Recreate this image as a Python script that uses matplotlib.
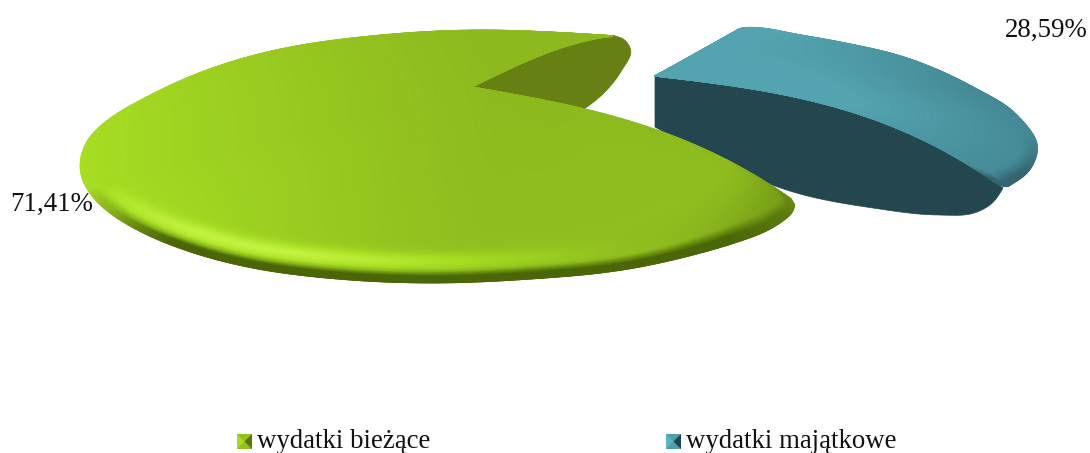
import numpy as np
import matplotlib
matplotlib.use("Agg")
import matplotlib.pyplot as plt
from matplotlib.collections import LineCollection
from matplotlib.colors import LinearSegmentedColormap

plt.rcParams['font.family'] = ['Liberation Serif', 'DejaVu Serif']

categories = ['wydatki bieżące', 'wydatki majątkowe']
shares = [71.41, 28.59]
share_labels = ['71,41%', '28,59%']

# angles come from the shares, blue slice sits on the right
top_angle = 50.0
sweep_green = 360 * shares[0] / sum(shares)
sweep_blue = 360 * shares[1] / sum(shares)
low_angle = top_angle - sweep_blue
end_angle = top_angle + sweep_green

# where the rim of each slice lands in the picture (perspective of the 3d pie)
green_apex = np.array([472.0, 87.0])
green_rim = [(617, 36), (570, 33), (470, 30), (370, 36), (270, 51), (203, 71), (137, 102), (92, 131),
             (75, 160), (82, 187), (111, 215), (170, 245), (237, 265), (337, 279), (437, 283),
             (530, 279), (630, 269), (697, 254), (763, 233), (790, 220), (801, 206)]
green_wall = [(555, 128), (580, 112), (605, 92), (622, 70), (631, 50), (625, 40), (612, 35)]
blue_apex = np.array([655.0, 76.0])
blue_rim = [(1004, 189), (1030, 170), (1038, 148), (1018, 116), (973, 87), (907, 58), (840, 42),
            (790, 33), (748, 24)]
blue_wall = [(655, 127), (725, 165), (793, 192), (873, 208), (940, 215), (975, 213), (994, 202), (1003, 188)]


def hermite(table, x):
    xs, ys = table[:, 0], table[:, 1:]
    m = np.gradient(ys, xs, axis=0)
    i = np.clip(np.searchsorted(xs, x) - 1, 0, len(xs) - 2)
    h = xs[i + 1] - xs[i]
    a = ((x - xs[i]) / h)[..., None]
    h = h[..., None]
    return ((2*a**3 - 3*a**2 + 1) * ys[i] + (a**3 - 2*a**2 + a) * h * m[i]
            + (-2*a**3 + 3*a**2) * ys[i + 1] + (a**3 - a**2) * h * m[i + 1])


def chord_table(points, a0, a1, window=41):
    # spread the angle range of the slice along the rim, then take the kinks out
    p = np.array(points, float)
    d = np.r_[0, np.cumsum(np.hypot(*np.diff(p, axis=0).T))]
    angles = np.linspace(a0, a1, 600)
    dense = hermite(np.c_[a0 + (a1 - a0) * d / d[-1], p], angles)
    k = window // 2
    pad = np.r_[2 * dense[0] - dense[k:0:-1], dense, 2 * dense[-1] - dense[-2:-k - 2:-1]]
    box = np.ones(window) / window
    smooth = np.c_[np.convolve(pad[:, 0], box, 'valid'), np.convolve(pad[:, 1], box, 'valid')]
    return np.c_[angles, smooth]


def slice_mesh(apex, rim, th0, th1, bend0, bend1, fil0, fil1, r00, r01):
    th = np.linspace(th0, th1, 500)
    d0 = np.clip((th - th0) / fil0, 0, 1)
    d1 = np.clip((th1 - th) / fil1, 0, 1)
    R = np.minimum(r00 + (1 - r00) * np.sqrt(1 - (1 - d0)**2), r01 + (1 - r01) * np.sqrt(1 - (1 - d1)**2))
    s = np.linspace(0, 1, 180)
    S, T = np.meshgrid(s, th, indexing='ij')
    r = S * R[None, :]
    P = apex + r[..., None] * (hermite(rim, T) - apex)
    # the cut edges sag a little
    b = bend0 * np.exp(-((T - th0) / 18)**2) + bend1 * np.exp(-((th1 - T) / 18)**2)
    P[..., 1] -= b * r * (1 - r**2)
    return P[..., 0], P[..., 1], S


def rim_distance(X, Y, S, apex):
    # pixels from a mesh point to the rim, measured square to the rim
    xr, yr = X[-1, :], Y[-1, :]
    tx, ty = np.gradient(xr), np.gradient(yr)
    n = np.hypot(tx, ty) + 1e-9
    across = np.abs((xr - apex[0]) * ty - (yr - apex[1]) * tx) / n
    across = np.maximum(across, .5 * np.hypot(xr - apex[0], yr - apex[1]))
    return (1 - S) * across[None, :]


green_cmap = LinearSegmentedColormap.from_list('g', [(0, '#4a6606'), (.35, '#8cb81e'), (.7, '#a6de22'), (1, '#c2f240')])
blue_cmap = LinearSegmentedColormap.from_list('b', [(0, '#2a525c'), (.4, '#3e7d89'), (1, '#53a4b0')])


def green_value(X, Y, S):
    xr, yr = X[-1, :][None, :], Y[-1, :][None, :]
    dist = rim_distance(X, Y, S, green_apex)
    u = S * (xr - 440) / 360
    low = np.clip((yr - 190) / 55, 0, 1)**.7
    v = .36 + .34 * np.clip((-u + .1) / 1.1, 0, 1)**1.2 + .05 * low * S
    hl = np.exp(-((dist - 21) / 9)**2) * low * np.clip(.55 - 1.1 * u, 0, 1)
    v = v + (1 - v) * hl
    dark = np.clip((14 - dist) / 8, 0, 1) * low
    tip = np.clip((xr - 640) / 150, 0, 1) * np.clip((S - .8) / .15, 0, 1) * .35
    return v * (1 - dark) * (1 - tip)


def blue_value(X, Y, S):
    xr, yr = X[-1, :][None, :], Y[-1, :][None, :]
    dist = rim_distance(X, Y, S, blue_apex)
    w = np.clip((xr - 780) / 200, 0, 1)
    v = 1 - .42 * w * np.clip((S - .55) / .45, 0, 1)
    tip = np.clip((yr - 135) / 40, 0, 1) * np.clip((14 - dist) / 10, 0, 1)
    return v * (1 - .7 * tip)


def draw_slice(ax, X, Y, V, cmap):
    ax.pcolormesh(X, Y, V, shading='gouraud', cmap=cmap, vmin=0, vmax=1, zorder=2)
    # soft edge round the mesh
    pts = np.c_[np.r_[X[:, 0], X[-1, :], X[::-1, -1]], np.r_[Y[:, 0], Y[-1, :], Y[::-1, -1]]]
    vals = np.r_[V[:, 0], V[-1, :], V[::-1, -1]]
    seg = np.stack([pts[:-1], pts[1:]], axis=1)
    ax.add_collection(LineCollection(seg, colors=cmap(vals[:-1]), linewidths=.8, zorder=2))


fig = plt.figure(figsize=(10.9, 4.53), dpi=100)
ax = fig.add_axes([0, 0, 1, 1])
ax.set_xlim(0, 1090)
ax.set_ylim(453, 0)
ax.axis('off')

# blue slice, side wall first
blue_table = chord_table(blue_rim, low_angle, top_angle, 31)
X, Y, S = slice_mesh(blue_apex, blue_table, low_angle, top_angle, 72, 0, 1.5, 9, .97, .9)
wall = chord_table(blue_wall, 0, 1, 31)[:, 1:]
ax.fill(np.r_[X[:, 0], wall[::-1, 0]], np.r_[Y[:, 0], wall[::-1, 1]], color='#24474f', lw=.5, zorder=1)
draw_slice(ax, X, Y, blue_value(X, Y, S), blue_cmap)

# green slice, inner wall then the top
green_table = chord_table(green_rim, top_angle, end_angle, 31)
X, Y, S = slice_mesh(green_apex, green_table, top_angle, end_angle, 20, 62, 2, 3.5, .97, .97)
w = chord_table(green_wall, 0, 1, 41)[:, 1:]
ax.fill(np.r_[green_apex[0], w[:, 0], X[::-1, 0]], np.r_[green_apex[1], w[:, 1], Y[::-1, 0]],
        color='#668013', lw=.5, zorder=1.5)
draw_slice(ax, X, Y, green_value(X, Y, S), green_cmap)

ax.text(52, 204, share_labels[0], fontsize=19.4, ha='center', va='center', color='#111111')
ax.text(1046, 30, share_labels[1], fontsize=19.4, ha='center', va='center', color='#111111')

# legend
leg_x = [237, 666]
leg_cols = [('#93c01f', '#a9d92a', '#5b7510'), ('#4f9fab', '#5db5c2', '#1f4650')]
for x0, name, (mid, light, dark) in zip(leg_x, categories, leg_cols):
    y0, sz = 434, 15
    cx, cy = x0 + sz * .5, y0 + sz / 2
    ax.fill([x0, x0 + sz, x0 + sz, x0], [y0, y0, y0 + sz, y0 + sz], color=mid, lw=0, zorder=3)
    ax.fill([x0, cx, x0], [y0, cy, y0 + sz], color=light, lw=0, zorder=3)
    ax.fill([x0 + sz, cx, x0 + sz], [y0, cy, y0 + sz], color=dark, lw=0, zorder=3)
    ax.text(x0 + 20, 448.5, name, fontsize=19.3, ha='left', va='baseline', color='#111111')

fig.savefig('out.png', dpi=100)
